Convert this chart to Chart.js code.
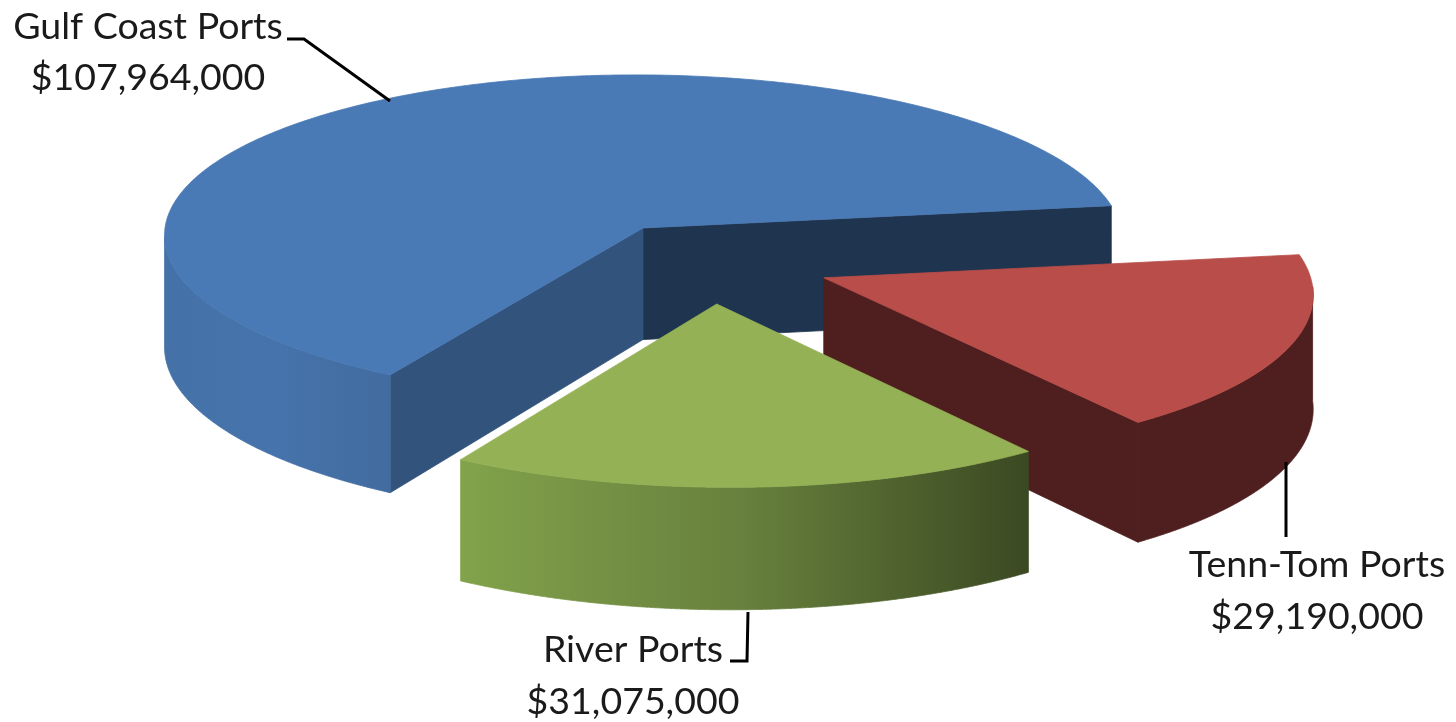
<!DOCTYPE html>
<html>
<head>
<meta charset="utf-8">
<title>Ports</title>
<script src="https://cdn.jsdelivr.net/npm/chart.js@4"></script>
<style>
  html, body { margin: 0; padding: 0; background: #fff; overflow: hidden; }
  canvas { display: block; }
</style>
</head>
<body>
<canvas id="myChart" width="1456" height="722"></canvas>
<script>
const categories = ['Gulf Coast Ports', 'Tenn-Tom Ports', 'River Ports'];
const values = [107964000, 29190000, 31075000];

const topColors = ['#4A7AB5', '#B84D49', '#94B255'];
const startFaceColors = ['#32537B', null, null];
const endFaceColors = ['#1F344E', '#4F1E1E', null];
const wallColors = [
    ['#4472A8', '#4673AB', '#426CA0'],
    ['#4F1E1E', '#4F1E1E', '#4F1E1E'],
    ['#82A24B', '#67803D', '#3B4922']
];

// label text anchor (centre x, baseline of the two rows)
const labelX = [148, 1317, 633];
const labelY1 = [39, 577, 662];
const labelY2 = [90, 629, 714];
const leaders = [
    [[287, 39], [304, 39], [390, 101]],
    [[1286, 462], [1286, 537]],
    [[748, 612], [747, 661], [730, 661]]
];

// fake 3D camera for the tilted pie, radius = 1
const explode = 0.245;
const centerX = 710, centerY = 261.6;
const scaleX = 484, scaleY = 166.6, shear = 12, persp = 0.062, depth = 113;
const nudgeX = [0, 3, -1], nudgeY = [0, 0, 1];

function project(x, y, z, i) {
    const w = 1 - persp * y;
    return [centerX + nudgeX[i] + (scaleX * x + shear * y) / w, centerY + nudgeY[i] + (scaleY * y + depth * z) / w];
}

function polygon(ctx, pts, fill) {
    ctx.beginPath();
    pts.forEach((p, i) => i ? ctx.lineTo(p[0], p[1]) : ctx.moveTo(p[0], p[1]));
    ctx.closePath();
    ctx.fillStyle = fill;
    ctx.fill();
    // thin stroke hides the seams between faces
    ctx.strokeStyle = fill;
    ctx.lineWidth = 0.8;
    ctx.stroke();
}

function drawSlice(ctx, arc, i) {
    const a0 = arc.startAngle, a1 = arc.endAngle;
    const mid = (a0 + a1) / 2;
    const ax = Math.cos(mid) * explode, ay = Math.sin(mid) * explode;
    const rim = (a, z) => project(ax + Math.cos(a), ay + Math.sin(a), z, i);
    const apex = z => project(ax, ay, z, i);

    // flat cut faces, only the ones turned to the viewer
    if (Math.cos(a1) > 0 && endFaceColors[i]) {
        polygon(ctx, [apex(0), rim(a1, 0), rim(a1, 1), apex(1)], endFaceColors[i]);
    }
    if (Math.cos(a0) < 0 && startFaceColors[i]) {
        polygon(ctx, [apex(0), rim(a0, 0), rim(a0, 1), apex(1)], startFaceColors[i]);
    }

    // outer wall, front of the rim (first unbroken run only)
    const top = [], bottom = [];
    for (let d = 0; d <= 480; d++) {
        const a = a0 + (a1 - a0) * d / 480;
        if (Math.sin(a) >= 0.05) {
            top.push(rim(a, 0));
            bottom.unshift(rim(a, 1));
        } else if (top.length) {
            break;
        }
    }
    if (top.length) {
        const xs = top.map(p => p[0]);
        const g = ctx.createLinearGradient(Math.min(...xs), 0, Math.max(...xs), 0);
        g.addColorStop(0, wallColors[i][0]);
        g.addColorStop(0.5, wallColors[i][1]);
        g.addColorStop(1, wallColors[i][2]);
        polygon(ctx, top.concat(bottom), g);
    }

    // top surface
    const pts = [apex(0)];
    for (let d = 0; d <= 360; d++) {
        pts.push(rim(a0 + (a1 - a0) * d / 360, 0));
    }
    polygon(ctx, pts, arc.options.backgroundColor);
}

const pie3d = {
    id: 'pie3d',
    beforeDatasetsDraw(chart) {
        const ctx = chart.ctx;
        chart.getDatasetMeta(0).data.forEach((arc, i) => drawSlice(ctx, arc, i));
        return false;
    },
    afterDraw(chart) {
        const ctx = chart.ctx;
        ctx.strokeStyle = '#000';
        ctx.lineWidth = 3;
        leaders.forEach(line => {
            ctx.beginPath();
            line.forEach((p, i) => i ? ctx.lineTo(p[0], p[1]) : ctx.moveTo(p[0], p[1]));
            ctx.stroke();
        });
        ctx.fillStyle = '#1a1a1a';
        ctx.font = '37.5px Lato';
        ctx.textAlign = 'center';
        categories.forEach((name, i) => {
            ctx.fillText(name, labelX[i], labelY1[i]);
            ctx.fillText('$' + values[i].toLocaleString('en-US'), labelX[i], labelY2[i]);
        });
    }
};

new Chart(document.getElementById('myChart'), {
    type: 'pie',
    data: {
        labels: categories,
        datasets: [{
            data: values,
            backgroundColor: topColors,
            borderWidth: 0
        }]
    },
    options: {
        responsive: false,
        animation: false,
        rotation: 211,
        plugins: {
            legend: { display: false },
            tooltip: { enabled: false }
        }
    },
    plugins: [pie3d]
});
</script>
</body>
</html>
